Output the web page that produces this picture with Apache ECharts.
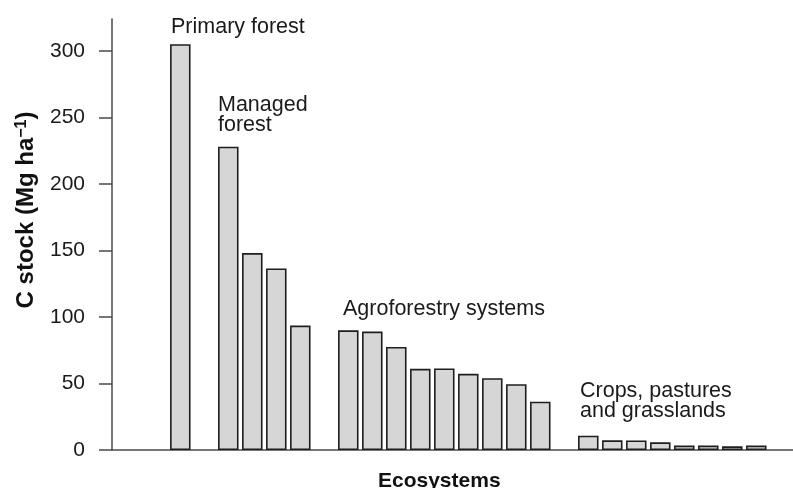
<!DOCTYPE html>
<html><head><meta charset="utf-8">
<script src="https://cdn.jsdelivr.net/npm/echarts@6/dist/echarts.min.js"></script>
<style>html,body{margin:0;padding:0;background:#fff}#c{width:793px;height:488px}</style>
</head><body><div id="c"></div>
<script>
// ---- data ----
const groupNames = ['Primary forest', 'Managed\nforest', 'Agroforestry systems', 'Crops, pastures\nand grasslands'];
const primaryForest = [305];
const managedForest = [228, 148, 136.5, 93.5];
const agroforestry = [90, 89, 77.5, 61, 61.3, 57.3, 54, 49.5, 36.3];
const cropsPastures = [10.8, 7.3, 7.2, 5.8, 3.3, 3.3, 2.8, 3.3];
const yTicks = [0, 50, 100, 150, 200, 250, 300];
const yAxisTitle = 'C stock (Mg ha';
const yAxisTitleSup = '\u22121';
const xAxisTitle = 'Ecosystems';

// ---- build ----
const FONT = '"Liberation Sans", Arial, Helvetica, sans-serif';
const groups = [primaryForest, managedForest, agroforestry, cropsPastures];
const barData = [];
let slot = 0;
groups.forEach(g => {
  g.forEach(v => { barData.push([slot, v]); slot++; });
  slot++; // empty slot between groups
});

// label layout (pixels)
const labelPos = [[171, 16], [218, 94], [343, 298], [580, 380]];

const chart = echarts.init(document.getElementById('c'), null, {renderer: 'canvas'});
chart.setOption({
  animation: false,
  backgroundColor: '#fff',
  grid: {left: 112, right: 0, top: 19, bottom: 38},
  xAxis: {
    type: 'value', min: -2.846, max: 25.53,
    axisLine: {show: true, onZero: false, lineStyle: {color: '#4a4a4a', width: 1.5}},
    axisTick: {show: false}, axisLabel: {show: false}, splitLine: {show: false}
  },
  yAxis: {
    type: 'value', min: 0, max: 324, interval: 50,
    axisLine: {show: true, onZero: false, lineStyle: {color: '#4a4a4a', width: 1.5}},
    axisTick: {show: true, length: 13, customValues: yTicks, lineStyle: {color: '#4a4a4a', width: 1.5}},
    axisLabel: {
      customValues: yTicks, margin: 27, color: '#1a1a1a', fontSize: 21, fontFamily: FONT,
      formatter: v => (yTicks.indexOf(v) >= 0 ? String(v) : '')
    },
    splitLine: {show: false}
  },
  series: [{
    type: 'bar',
    data: barData,
    barWidth: 20.5,
    itemStyle: {color: '#d6d6d6', borderColor: '#1e1e1e', borderWidth: 1.6}
  }],
  graphic: [
    ...groupNames.map((name, i) => ({
      type: 'text', left: labelPos[i][0], top: labelPos[i][1],
      style: {text: name, font: '21.5px ' + FONT, fill: '#1a1a1a', lineHeight: 20}
    })),
    {
      type: 'text', left: 378, top: 471,
      style: {text: xAxisTitle, font: 'bold 21px ' + FONT, fill: '#111'}
    },
    {
      type: 'text', x: 26, y: 210, rotation: Math.PI / 2,
      style: {
        text: yAxisTitle + '{sup|' + yAxisTitleSup + '}' + ')',
        font: 'bold 24px ' + FONT, fill: '#111',
        align: 'center', verticalAlign: 'middle',
        rich: {sup: {fontSize: 16, fontWeight: 'bold', fontFamily: FONT, verticalAlign: 'top', fill: '#111'}}
      }
    }
  ]
});
</script>
</body></html>
